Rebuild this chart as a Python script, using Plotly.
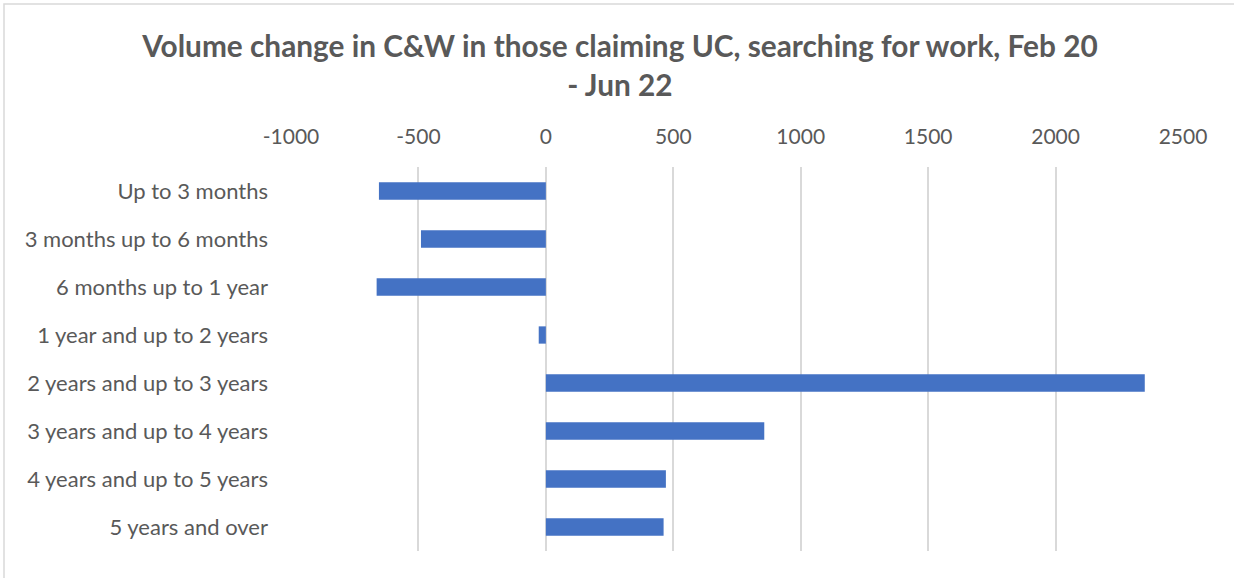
import plotly.graph_objects as go

categories = [
    "Up to 3 months",
    "3 months up to 6 months",
    "6 months up to 1 year",
    "1 year and up to 2 years",
    "2 years and up to 3 years",
    "3 years and up to 4 years",
    "4 years and up to 5 years",
    "5 years and over",
]
values = [-655, -490, -664, -28, 2350, 857, 471, 462]
tick_values = [-1000, -500, 0, 500, 1000, 1500, 2000, 2500]
tick_labels = [str(v) for v in tick_values]

W, H = 1234, 578
L, R, T, B = 291, 51, 167, 27
PW, PH = W - L - R, H - T - B

fig = go.Figure(go.Bar(
    y=categories,
    x=values,
    orientation="h",
    marker=dict(color="#4472C4", line=dict(width=0)),
))

fig.update_layout(
    width=W, height=H,
    paper_bgcolor="white", plot_bgcolor="white",
    margin=dict(l=L, r=R, t=T, b=B),
    bargap=0.64,
    showlegend=False,
    title=dict(
        text="Volume change in C&W in those claiming UC, searching for work, Feb 20<br>- Jun 22",
        x=620 / W, xanchor="center", y=1 - 57 / H, yanchor="top",
        font=dict(family="Lato", size=29.8, color="#595959", weight="bold"),
    ),
    font=dict(family="Lato", size=21, color="#595959"),
)

fig.update_xaxes(
    side="top", range=[-1000, 2500],
    tickvals=tick_values, ticktext=tick_labels,
    showgrid=True, gridcolor="#D9D9D9", gridwidth=1.5,
    zeroline=False, showline=False, ticks="",
    ticklabelstandoff=18,
    tickfont=dict(family="Lato", size=21, color="#595959"),
)
fig.update_yaxes(
    autorange="reversed", showgrid=False, zeroline=False, showline=False,
    ticks="", ticklabelstandoff=22,
    tickfont=dict(family="Lato", size=22, color="#595959"),
)

# outer chart border (left and top edges visible)
fig.add_shape(type="rect", xref="paper", yref="paper",
              x0=(4 - L) / PW, x1=1 + (R + 20) / PW,
              y0=-(B + 20) / PH, y1=1 + (T - 4) / PH,
              line=dict(color="#D9D9D9", width=1.5), layer="below")

fig.write_html("out.html", config={"displayModeBar": False},
               post_script="document.body.style.margin='0';")
